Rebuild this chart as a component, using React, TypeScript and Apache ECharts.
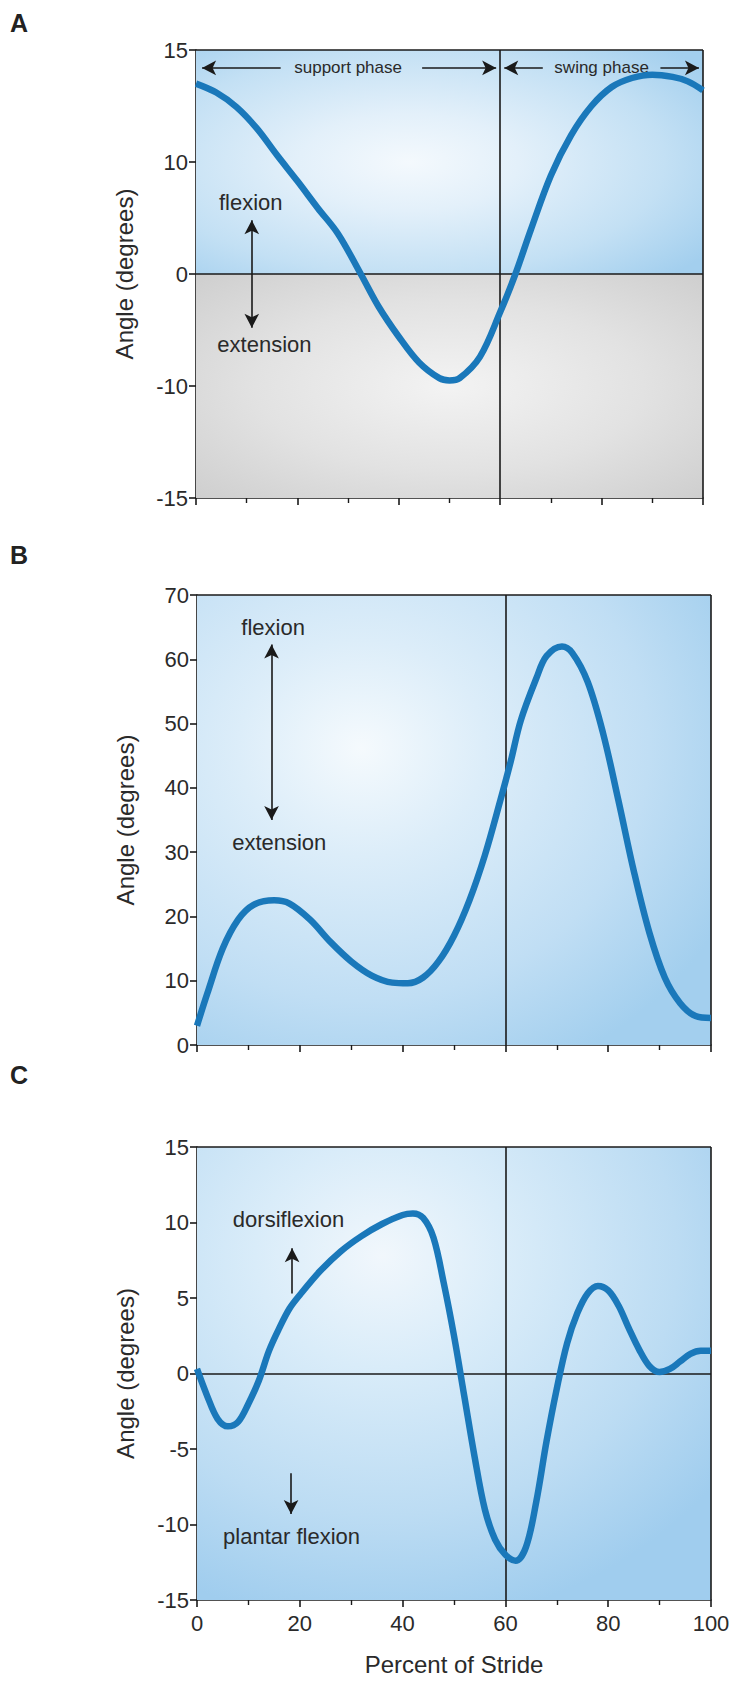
import React, { useEffect, useRef } from "react";
import * as echarts from "echarts";

// ---------- data ----------
// Panel A (hip) – values on the panel's linear scale (ticks every 10, ends labelled ±15)
const strideA = [0, 4, 8, 12, 16, 20, 24, 28, 32.5, 36, 40, 44, 48, 50, 52, 56, 60, 63, 66, 70, 74, 78, 82, 86, 90, 94, 97, 100];
const angleA = [17.0, 16.2, 14.9, 13.0, 10.6, 8.3, 5.9, 3.6, 0, -2.9, -5.6, -7.9, -9.3, -9.5, -9.3, -7.4, -3.4, 0, 3.9, 8.8, 12.4, 15.0, 16.7, 17.5, 17.8, 17.6, 17.2, 16.4];
const tickValuesA = [-20, -10, 0, 10, 20];
const tickLabelsA = ["-15", "-10", "0", "10", "15"];

// Panel B (knee)
const strideB = [0, 2, 5, 8, 11, 15, 18, 22, 26, 30, 34, 38, 41, 44, 47, 50, 53, 56, 59, 61, 63, 66, 68, 71, 73, 76, 79, 82, 85, 88, 91, 94, 97, 100];
const angleB = [3, 8, 15, 19.5, 21.8, 22.5, 22, 19.5, 16, 13, 10.8, 9.7, 9.6, 10.5, 13, 17, 22.5, 29.5, 38, 44, 50.5, 57, 60.5, 62, 61, 56.5, 48.5, 38, 27, 17.5, 10.5, 6.5, 4.5, 4.2];

// Panel C (ankle)
const strideC = [0, 2, 4, 6, 8, 10, 12, 14, 16, 18, 20, 24, 28, 32, 36, 40, 42, 44, 46, 48, 50, 52, 54, 56, 58, 60, 62, 64, 66, 68, 70, 72, 74, 76, 78, 80, 82, 84, 86, 88, 90, 92, 94, 96, 98, 100];
const angleC = [0.3, -1.5, -3, -3.5, -3.2, -2, -0.5, 1.5, 3, 4.3, 5.2, 6.8, 8.1, 9.1, 9.9, 10.5, 10.6, 10.3, 9, 6, 2.5, -1.5, -5.5, -9, -11, -12, -12.4, -11.5, -8.5, -4.5, -1, 2, 4, 5.3, 5.8, 5.5, 4.5, 3, 1.6, 0.5, 0.1, 0.3, 0.8, 1.3, 1.5, 1.5];

const xTicks = [0, 20, 40, 60, 80, 100];

const FONT = "'Liberation Sans', Arial, Helvetica, sans-serif";
const INK = "#1a1a1a";
const CURVE = "#1a78ba";

function radial(cx: number, cy: number, r: number, stops: [number, string][]) {
  return new echarts.graphic.RadialGradient(
    cx, cy, r,
    stops.map(([offset, color]) => ({ offset, color }))
  );
}

const lineStyleInk = { color: INK, width: 1.6, type: "solid" as const };

function textPoint(coord: [number, number], text: string, size = 22) {
  return {
    coord,
    value: text,
    symbol: "circle",
    symbolSize: 0,
    label: { show: true, position: "inside", formatter: text, fontSize: size, color: "#2a2a2a", fontFamily: FONT },
  };
}

function arrowSeg(from: [number, number], to: [number, number], both = false) {
  return [
    { coord: from, symbol: both ? "arrow" : "none" },
    { coord: to, symbol: "arrow" },
  ];
}

export default function App() {
  const ref = useRef<HTMLDivElement>(null);
  useEffect(() => {
    document.body.style.margin = "0";
    const chart = echarts.init(ref.current!, undefined, { renderer: "svg" });

    const grids = [
      { left: 196, top: 50, width: 507, height: 448 },
      { left: 197, top: 595, width: 514, height: 450 },
      { left: 197, top: 1147, width: 514, height: 453 },
    ];

    const xAxis = [0, 1, 2].map((i) => ({
      type: "value",
      gridIndex: i,
      min: 0,
      max: 100,
      interval: 20,
      axisLine: { show: true, onZero: false, lineStyle: { color: INK, width: 1.6 } },
      axisTick: { show: true, length: 7, lineStyle: { color: INK, width: 1.6 } },
      minorTick: { show: true, splitNumber: 2, length: 5, lineStyle: { color: INK, width: 1.4 } },
      splitLine: { show: false },
      axisLabel: {
        show: i === 2,
        fontSize: 22,
        color: "#2a2a2a",
        margin: 12,
        fontFamily: FONT,
        formatter: (v: number) => (xTicks.includes(v) ? String(v) : ""),
      },
      name: i === 2 ? "Percent of Stride" : "",
      nameLocation: "middle",
      nameGap: 52,
      nameTextStyle: { fontSize: 24, color: "#2a2a2a", fontFamily: FONT },
    }));

    const yCommon = {
      type: "value",
      axisLine: { show: true, onZero: false, lineStyle: { color: INK, width: 1.6 } },
      axisTick: { show: true, length: 7, lineStyle: { color: INK, width: 1.6 } },
      splitLine: { show: false },
      name: "Angle (degrees)",
      nameLocation: "middle",
      nameRotate: 90,
      nameGap: 60,
      nameTextStyle: { fontSize: 24, color: "#2a2a2a", fontFamily: FONT },
    };
    const yAxis = [
      {
        ...yCommon,
        gridIndex: 0,
        min: -20,
        max: 20,
        interval: 10,
        axisLabel: {
          fontSize: 22, color: "#2a2a2a", margin: 8, fontFamily: FONT,
          formatter: (v: number) => tickLabelsA[tickValuesA.indexOf(v)] ?? "",
        },
      },
      {
        ...yCommon,
        gridIndex: 1,
        min: 0,
        max: 70,
        interval: 10,
        axisLabel: { fontSize: 22, color: "#2a2a2a", margin: 8, fontFamily: FONT },
      },
      {
        ...yCommon,
        gridIndex: 2,
        min: -15,
        max: 15,
        interval: 5,
        axisLabel: { fontSize: 22, color: "#2a2a2a", margin: 8, fontFamily: FONT },
      },
    ];

    const blueA = radial(0.42, 0.5, 0.72, [[0, "#f4f9fd"], [0.3, "#e3f0fa"], [0.7, "#c3e0f4"], [1, "#a3cfee"]]);
    const greyA = radial(0.5, 0.5, 0.85, [[0, "#f3f3f3"], [0.45, "#e2e2e2"], [0.8, "#d0d0d0"], [1, "#c4c4c4"]]);
    const blueB = radial(0.32, 0.34, 0.8, [[0, "#f5fafd"], [0.3, "#dcedf9"], [0.7, "#c0def4"], [1, "#a3cfee"]]);
    const blueC = radial(0.36, 0.24, 0.82, [[0, "#f1f7fc"], [0.3, "#d9ecf9"], [0.7, "#bcdcf3"], [1, "#a0cdee"]]);

    const frameLines = (ymax: number, zero: boolean) => {
      const d: any[] = [{ xAxis: 60 }, { xAxis: 100 }, { yAxis: ymax }];
      if (zero) d.push({ yAxis: 0 });
      return d;
    };

    const series: any[] = [
      {
        type: "line",
        xAxisIndex: 0,
        yAxisIndex: 0,
        data: strideA.map((x, i) => [x, angleA[i]]),
        smooth: 0.35,
        symbol: "none",
        lineStyle: { color: CURVE, width: 6.5 },
        z: 5,
        markArea: {
          silent: true,
          z: 1,
          data: [
            [{ coord: [0, 0], itemStyle: { color: blueA } }, { coord: [100, 20] }],
            [{ coord: [0, -20], itemStyle: { color: greyA } }, { coord: [100, 0] }],
          ],
        },
      },
      {
        type: "line",
        xAxisIndex: 0,
        yAxisIndex: 0,
        data: [],
        silent: true,
        markLine: {
          silent: true,
          symbol: "none",
          label: { show: false },
          lineStyle: lineStyleInk,
          data: [
            ...frameLines(20, true),
            arrowSeg([16.7, 18.4], [1.2, 18.4]),
            arrowSeg([44.6, 18.4], [59.2, 18.4]),
            arrowSeg([68.4, 18.4], [60.8, 18.4]),
            arrowSeg([91.6, 18.4], [99.2, 18.4]),
            arrowSeg([11, -4.8], [11, 4.8], true),
          ],
          symbolSize: [11, 14],
        },
        markPoint: {
          silent: true,
          data: [
            textPoint([30, 18.4], "support phase", 17),
            textPoint([80, 18.4], "swing phase", 17),
            textPoint([10.8, 6.4], "flexion"),
            textPoint([13.5, -6.3], "extension"),
          ],
        },
      },
      {
        type: "line",
        xAxisIndex: 1,
        yAxisIndex: 1,
        data: strideB.map((x, i) => [x, angleB[i]]),
        smooth: 0.35,
        symbol: "none",
        lineStyle: { color: CURVE, width: 6.5 },
        z: 5,
        markArea: {
          silent: true,
          z: 1,
          data: [[{ coord: [0, 0], itemStyle: { color: blueB } }, { coord: [100, 70] }]],
        },
      },
      {
        type: "line",
        xAxisIndex: 1,
        yAxisIndex: 1,
        data: [],
        silent: true,
        markLine: {
          silent: true,
          symbol: "none",
          label: { show: false },
          lineStyle: lineStyleInk,
          symbolSize: [11, 14],
          data: [...frameLines(70, false), arrowSeg([14.5, 35], [14.5, 62.3], true)],
        },
        markPoint: {
          silent: true,
          data: [textPoint([14.8, 65], "flexion"), textPoint([16, 31.5], "extension")],
        },
      },
      {
        type: "line",
        xAxisIndex: 2,
        yAxisIndex: 2,
        data: strideC.map((x, i) => [x, angleC[i]]),
        smooth: 0.35,
        symbol: "none",
        lineStyle: { color: CURVE, width: 6.5 },
        z: 5,
        markArea: {
          silent: true,
          z: 1,
          data: [[{ coord: [0, -15], itemStyle: { color: blueC } }, { coord: [100, 15] }]],
        },
      },
      {
        type: "line",
        xAxisIndex: 2,
        yAxisIndex: 2,
        data: [],
        silent: true,
        markLine: {
          silent: true,
          symbol: "none",
          label: { show: false },
          lineStyle: lineStyleInk,
          symbolSize: [11, 14],
          data: [
            ...frameLines(15, true),
            arrowSeg([18.5, 5.3], [18.5, 8.3]),
            arrowSeg([18.3, -6.6], [18.3, -9.3]),
          ],
        },
        markPoint: {
          silent: true,
          data: [textPoint([17.8, 10.2], "dorsiflexion"), textPoint([18.4, -10.8], "plantar flexion")],
        },
      },
    ];

    chart.setOption({
      animation: false,
      backgroundColor: "#ffffff",
      grid: grids,
      xAxis,
      yAxis,
      series,
      graphic: [
        { type: "text", left: 10, top: 10, style: { text: "A", fontSize: 25, fontWeight: "bold", fill: "#222", fontFamily: FONT } },
        { type: "text", left: 10, top: 542, style: { text: "B", fontSize: 25, fontWeight: "bold", fill: "#222", fontFamily: FONT } },
        { type: "text", left: 10, top: 1062, style: { text: "C", fontSize: 25, fontWeight: "bold", fill: "#222", fontFamily: FONT } },
      ],
    });
    return () => chart.dispose();
  }, []);
  return <div ref={ref} style={{ width: 739, height: 1682 }} />;
}
